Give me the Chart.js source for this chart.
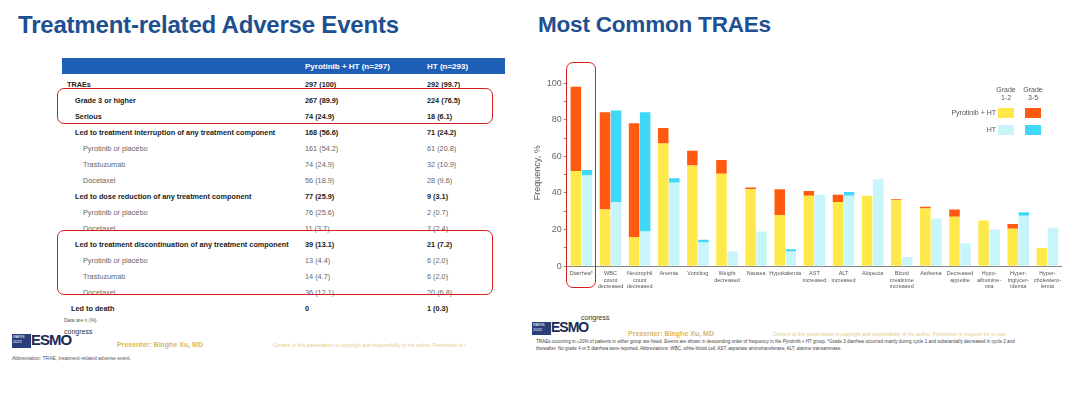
<!DOCTYPE html>
<html>
<head>
<meta charset="utf-8">
<script src="https://cdn.jsdelivr.net/npm/chart.js@4.4.0/dist/chart.umd.min.js"></script>
<style>
  body { margin: 0; width: 1080px; height: 398px; background: #fff; position: relative; overflow: hidden; font-family: "Liberation Sans", Arial, sans-serif; }
  .abs { position: absolute; }
  .title { color: #1d4f91; font-weight: bold; font-size: 24px; letter-spacing: -0.2px; }
  table.ae { position: absolute; left: 62px; top: 58px; width: 443px; border-collapse: collapse; font-size: 7.3px; color: #333; }
  table.ae th { background: #1f5fb5; color: #fff; text-align: left; height: 16px; padding: 0 0 0 5px; font-size: 8px; }
  table.ae td { height: 16px; padding: 0; white-space: nowrap; }
  table.ae tr.gap td { height: 2px; }
  .b { font-weight: bold; color: #222; }
  .s { color: #666; }
  .redbox { position: absolute; border: 1.5px solid #d42020; border-radius: 7px; }
  .legend { font-size: 7px; color: #555; }
  .sw { position: absolute; width: 16px; height: 10px; }
</style>
</head>
<body>
<div class="abs title" style="left:18px; top:11px;">Treatment-related Adverse Events</div>
<div class="abs title" style="left:538px; top:12px; font-size:22.5px;">Most Common TRAEs</div>

<table class="ae">
  <tr><th style="width:233px;"></th><th style="width:117px;">Pyrotinib + HT (n=297)</th><th>HT (n=293)</th></tr>
  <tr class="gap"><td></td><td></td><td></td></tr>
  <tr class="b"><td style="padding-left:5px;">TRAEs</td><td style="padding-left:5px;">297 (100)</td><td style="padding-left:5px;">292 (99.7)</td></tr>
  <tr class="b"><td style="padding-left:13px;">Grade 3 or higher</td><td style="padding-left:5px;">267 (89.9)</td><td style="padding-left:5px;">224 (76.5)</td></tr>
  <tr class="b"><td style="padding-left:13px;">Serious</td><td style="padding-left:5px;">74 (24.9)</td><td style="padding-left:5px;">18 (6.1)</td></tr>
  <tr class="b"><td style="padding-left:13px;">Led to treatment interruption of any treatment component</td><td style="padding-left:5px;">168 (56.6)</td><td style="padding-left:5px;">71 (24.2)</td></tr>
  <tr class="s"><td style="padding-left:21px;">Pyrotinib or placebo</td><td style="padding-left:5px;">161 (54.2)</td><td style="padding-left:5px;">61 (20.8)</td></tr>
  <tr class="s"><td style="padding-left:21px;">Trastuzumab</td><td style="padding-left:5px;">74 (24.9)</td><td style="padding-left:5px;">32 (10.9)</td></tr>
  <tr class="s"><td style="padding-left:21px;">Docetaxel</td><td style="padding-left:5px;">56 (18.9)</td><td style="padding-left:5px;">28 (9.6)</td></tr>
  <tr class="b"><td style="padding-left:13px;">Led to dose reduction of any treatment component</td><td style="padding-left:5px;">77 (25.9)</td><td style="padding-left:5px;">9 (3.1)</td></tr>
  <tr class="s"><td style="padding-left:21px;">Pyrotinib or placebo</td><td style="padding-left:5px;">76 (25.6)</td><td style="padding-left:5px;">2 (0.7)</td></tr>
  <tr class="s"><td style="padding-left:21px;">Docetaxel</td><td style="padding-left:5px;">11 (3.7)</td><td style="padding-left:5px;">7 (2.4)</td></tr>
  <tr class="b"><td style="padding-left:13px;">Led to treatment discontinuation of any treatment component</td><td style="padding-left:5px;">39 (13.1)</td><td style="padding-left:5px;">21 (7.2)</td></tr>
  <tr class="s"><td style="padding-left:21px;">Pyrotinib or placebo</td><td style="padding-left:5px;">13 (4.4)</td><td style="padding-left:5px;">6 (2.0)</td></tr>
  <tr class="s"><td style="padding-left:21px;">Trastuzumab</td><td style="padding-left:5px;">14 (4.7)</td><td style="padding-left:5px;">6 (2.0)</td></tr>
  <tr class="s"><td style="padding-left:21px;">Docetaxel</td><td style="padding-left:5px;">36 (12.1)</td><td style="padding-left:5px;">20 (6.8)</td></tr>
  <tr class="b"><td style="padding-left:9px;">Led to death</td><td style="padding-left:5px;">0</td><td style="padding-left:5px;">1 (0.3)</td></tr>
</table>
<div class="abs" style="left:64px; top:317px; font-size:5px; color:#555;">Data are n (%).</div>
<div class="redbox" style="left:57px; top:88px; width:434px; height:34px;"></div>
<div class="redbox" style="left:57px; top:230px; width:434px; height:63px;"></div>

<!-- footer left -->
<div class="abs" style="left:12px; top:334px; width:18px; height:14px; background:#2a3f7a; color:#fff; font-size:4px; line-height:5px; padding-left:1px;">PARIS<br>2022</div>
<div class="abs" style="left:31px; top:331px; font-size:15px; font-weight:bold; color:#1a2a55; letter-spacing:-1px;">ESMO</div>
<div class="abs" style="left:64px; top:328px; font-size:7px; color:#333;">congress</div>
<div class="abs" style="left:117px; top:341px; font-size:7px; font-weight:bold; color:#d9b860;">Presenter: Binghe Xu, MD</div>
<div class="abs" style="left:273px; top:342px; font-size:5px; color:#e0cf88;">Content of this presentation is copyright and responsibility of the author. Permission is r</div>
<div class="abs" style="left:12px; top:355px; font-size:5px; color:#555;">Abbreviation: TRAE, treatment-related adverse event.</div>

<div class="abs" style="left:530px; top:72px; width:535px; height:222px;"><canvas id="trae"></canvas></div>
<div class="redbox" style="left:566px; top:62px; width:28px; height:224px;"></div>

<div class="abs legend" style="left:992px; top:86px; width:28px; text-align:center; line-height:8px;">Grade<br>1-2</div>
<div class="abs legend" style="left:1019px; top:86px; width:28px; text-align:center; line-height:8px;">Grade<br>3-5</div>
<div class="abs legend" style="left:940px; top:109px; width:56px; text-align:right;">Pyrotinib + HT</div>
<div class="abs legend" style="left:940px; top:126px; width:56px; text-align:right;">HT</div>
<div class="sw" style="left:998px; top:108px; background:#ffe94a;"></div>
<div class="sw" style="left:1025px; top:108px; background:#ff5a0f;"></div>
<div class="sw" style="left:998px; top:125px; background:#c8f5fa;"></div>
<div class="sw" style="left:1025px; top:125px; background:#40d8f6;"></div>

<!-- footer right -->
<div class="abs" style="left:532px; top:322px; width:18px; height:13px; background:#2a3f7a; color:#fff; font-size:4px; line-height:5px; padding-left:1px;">PARIS<br>2022</div>
<div class="abs" style="left:551px; top:319px; font-size:14px; font-weight:bold; color:#1a2a55; letter-spacing:-1px;">ESMO</div>
<div class="abs" style="left:581px; top:314px; font-size:7px; color:#333;">congress</div>
<div class="abs" style="left:628px; top:330px; font-size:7px; font-weight:bold; color:#d9b860;">Presenter: Binghe Xu, MD</div>
<div class="abs" style="left:773px; top:331px; font-size:5px; color:#e0cf88;">Content of this presentation is copyright and responsibility of the author. Permission is required for re-use.</div>
<div class="abs" style="left:536px; top:338px; width:500px; font-size:4.6px; line-height:7px; color:#444;">TRAEs occurring in ≥20% of patients in either group are listed. Events are shown in descending order of frequency in the Pyrotinib + HT group. *Grade 3 diarrhea occurred mainly during cycle 1 and substantially decreased in cycle 2 and thereafter. No grade 4 or 5 diarrhea were reported. Abbreviations: WBC, white blood cell; AST, aspartate aminotransferase; ALT, alanine transaminase.</div>

<script>
const categories = [
  'Diarrhea*', ['WBC', 'count', 'decreased'], ['Neutrophil', 'count', 'decreased'], 'Anemia', 'Vomiting',
  ['Weight', 'decreased'], 'Nausea', 'Hypokalemia', ['AST', 'increased'], ['ALT', 'increased'], 'Alopecia',
  ['Blood', 'creatinine', 'increased'], 'Asthenia', ['Decreased', 'appetite'], ['Hypo-', 'albumine-', 'mia'],
  ['Hyper-', 'triglycer-', 'idemia'], ['Hyper-', 'cholestero-', 'lemia']
];
const pyrGrade12 = [52, 31, 16, 67, 55, 50.5, 42, 28, 38.5, 35, 38.5, 36, 31.5, 27, 25, 20.5, 10];
const pyrGrade35 = [46, 53, 62, 8.5, 8, 7.5, 1, 14, 2.5, 4, 0, 0.5, 1, 4, 0, 2.5, 0];
const htGrade12 = [49.5, 35, 19, 45.5, 13, 8, 19, 8, 39, 38.5, 47.5, 5, 26, 12.5, 20, 27.5, 21];
const htGrade35 = [3, 50, 65, 2.5, 1.5, 0, 0, 1.3, 0, 2, 0, 0, 0, 0, 0, 2, 0];
const yTicks = [0, 20, 40, 60, 80, 100];

const ctx = document.getElementById('trae');

new Chart(ctx, {
  type: 'bar',
  data: {
    labels: categories,
    datasets: [
      { label: 'Pyrotinib + HT Grade 1-2', data: pyrGrade12, backgroundColor: '#ffe94a', stack: 'pyr' },
      { label: 'Pyrotinib + HT Grade 3-5', data: pyrGrade35, backgroundColor: '#ff5a0f', stack: 'pyr' },
      { label: 'HT Grade 1-2', data: htGrade12, backgroundColor: '#c8f5fa', stack: 'ht' },
      { label: 'HT Grade 3-5', data: htGrade35, backgroundColor: '#40d8f6', stack: 'ht' }
    ]
  },
  options: {
    responsive: true,
    maintainAspectRatio: false,
    animation: false,
    layout: { padding: { top: 6, right: 0 } },
    categoryPercentage: 0.76,
    barPercentage: 0.95,
    plugins: { legend: { display: false }, tooltip: { enabled: false } },
    scales: {
      x: {
        stacked: true,
        grid: { display: false, drawTicks: false },
        border: { color: '#888', width: 1 },
        ticks: { autoSkip: false, maxRotation: 0, minRotation: 0, color: '#555', font: { size: 5.5 }, padding: 4 }
      },
      y: {
        stacked: true,
        min: 0,
        max: 102,
        afterBuildTicks: (axis) => {
          const t = [];
          for (let v = 0; v <= 100; v += 5) t.push({ value: v });
          axis.ticks = t;
        },
        grid: { drawOnChartArea: false, tickLength: 3, color: '#888' },
        border: { color: '#888', width: 1 },
        ticks: {
          color: '#666', font: { size: 9 }, padding: 2,
          callback: (v) => yTicks.includes(v) ? v : ''
        },
        title: { display: true, text: 'Frequency, %', color: '#555', font: { size: 9 }, padding: 2 }
      }
    }
  }
});
</script>
</body>
</html>
